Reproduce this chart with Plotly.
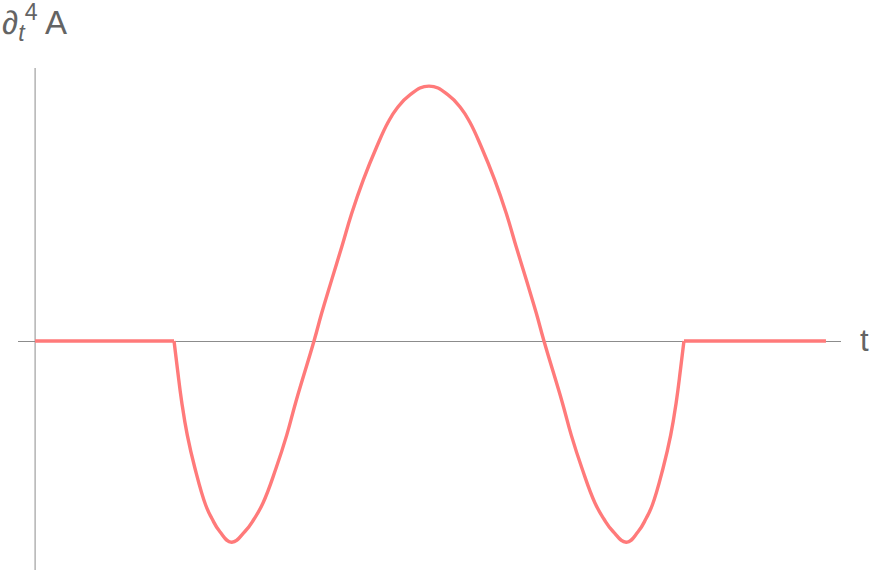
import plotly.graph_objects as go

# half-bump (t >= 0), mirrored below for the left side
t_half = [0.0, 0.077, 0.127, 0.160, 0.205, 0.258, 0.303, 0.342, 0.382, 0.421,
          0.451, 0.522, 0.558, 0.600, 0.651, 0.686, 0.722, 0.774, 0.820, 0.852,
          0.876, 0.918, 0.948, 0.970, 0.987, 1.0]
a4_half = [1.0, 0.964, 0.911, 0.859, 0.762, 0.631, 0.501, 0.370, 0.239, 0.109,
           0.0, -0.238, -0.369, -0.499, -0.635, -0.698, -0.747, -0.789, -0.748, -0.695,
           -0.643, -0.499, -0.369, -0.238, -0.107, 0.0]

t_bump = [-v for v in t_half[:0:-1]] + t_half
a4_bump = a4_half[:0:-1] + a4_half

# flat parts outside the bump
t_left = [-1.545, -1.0]
t_right = [1.0, 1.557]
a4_flat = [0.0, 0.0]

curve_color = "rgb(255,122,122)"
axis_color = "rgb(140,140,140)"
label_color = "rgb(100,100,100)"

fig = go.Figure()
for tx, ty, shape in [(t_left, a4_flat, "linear"), (t_bump, a4_bump, "spline"),
                      (t_right, a4_flat, "linear")]:
    fig.add_trace(go.Scatter(
        x=tx, y=ty, mode="lines",
        line=dict(color=curve_color, width=3.4, shape=shape, smoothing=1.3),
        hoverinfo="skip", showlegend=False,
    ))

# vertical axis drawn at the left edge
fig.add_shape(type="line", xref="x", yref="y",
              x0=-1.545, x1=-1.545, y0=-0.898, y1=1.071,
              line=dict(color=axis_color, width=1), layer="below")

fig.add_annotation(
    text="∂<sub><i>t</i></sub><sup>4</sup> A",
    xref="paper", yref="paper", x=-0.0219, y=1.0916,
    xanchor="left", yanchor="middle", showarrow=False,
    font=dict(size=33, color=label_color, family="Liberation Sans"),
)
fig.add_annotation(
    text="t",
    xref="paper", yref="paper", x=1.029, y=0.458,
    xanchor="center", yanchor="middle", showarrow=False,
    font=dict(size=31, color=label_color, family="Liberation Sans"),
)

fig.update_layout(
    width=872, height=574,
    margin=dict(l=18, r=31, t=68, b=4, autoexpand=False),
    plot_bgcolor="white", paper_bgcolor="white",
    xaxis=dict(range=[-1.612, 1.616], visible=False, showgrid=False),
    yaxis=dict(range=[-0.898, 1.071], showgrid=False, showticklabels=False,
               zeroline=True, zerolinecolor=axis_color, zerolinewidth=1,
               showline=False, ticks=""),
)

fig.write_html("out.html", config={"displayModeBar": False},
               post_script="document.body.style.margin = '0';")
